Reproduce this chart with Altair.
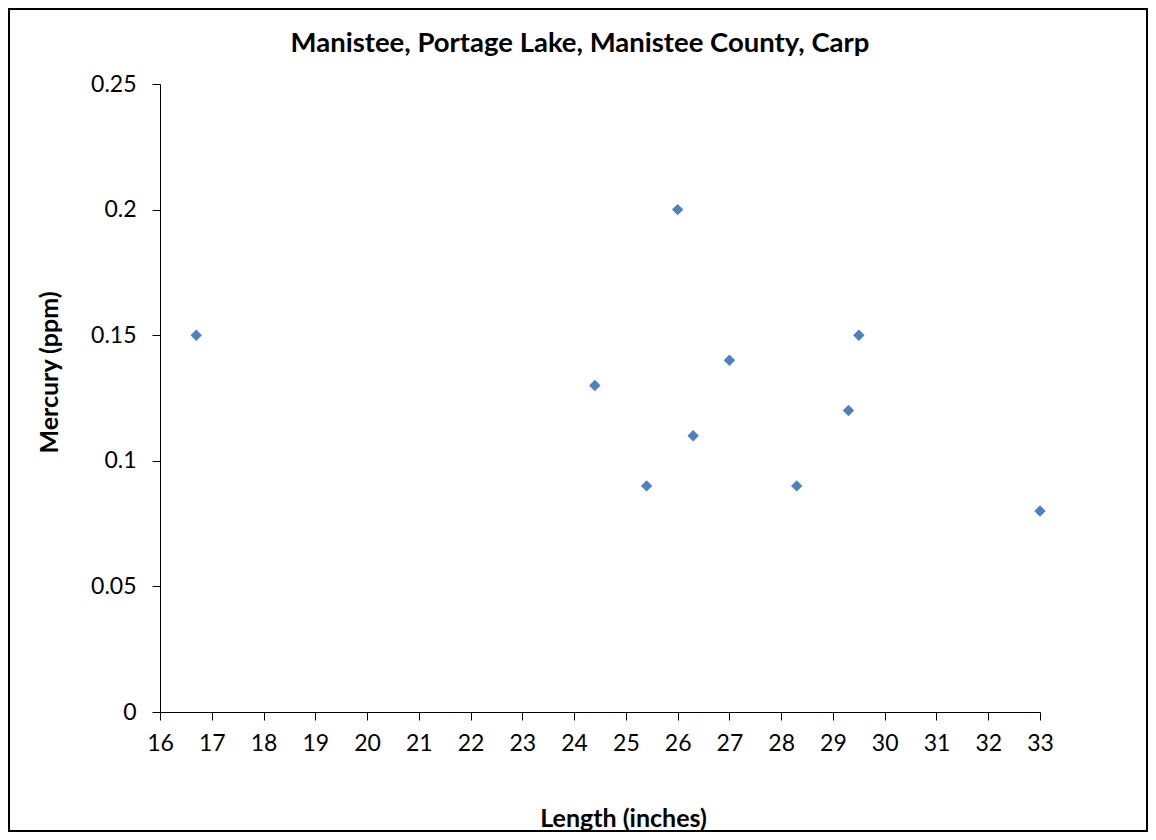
import altair as alt
import pandas as pd

# Data
length_in = [16.7, 24.4, 25.4, 26.0, 26.3, 27.0, 28.3, 29.3, 29.5, 33.0]
mercury_ppm = [0.15, 0.13, 0.09, 0.20, 0.11, 0.14, 0.09, 0.12, 0.15, 0.08]
x_ticks = list(range(16, 34))
y_ticks = [0, 0.05, 0.1, 0.15, 0.2, 0.25]

title_text = ["Manistee, Portage Lake, Manistee County, Carp"]
x_title = "Length (inches)"
y_title = "Mercury (ppm)"

df = pd.DataFrame({"Length": length_in, "Mercury": mercury_ppm})

W, H = 880, 628
PL, PT, PR, PB = 152, 76, 108, 120
FONT = "Lato"
LABEL_SIZE = 23
AXIS_TITLE_SIZE = 25
MAIN_TITLE_SIZE = 27.5

points = alt.Chart(df).mark_point(
    shape="diamond", filled=True, size=130, color="#4F81BD", opacity=1
).encode(
    x=alt.X(
        "Length:Q",
        scale=alt.Scale(domain=[16, 33], nice=False, zero=False),
        axis=alt.Axis(
            values=x_ticks, title=x_title, grid=False,
            domainColor="black", domainWidth=1, tickColor="black", tickWidth=1, tickSize=8,
            labelFont=FONT, labelFontSize=LABEL_SIZE, labelColor="black", labelPadding=12,
            labelFlush=False,
            titleFont=FONT, titleFontSize=AXIS_TITLE_SIZE, titleFontWeight="bold", titleColor="black",
            titleX=463, titleY=106, titleBaseline="middle", titleAlign="center",
        ),
    ),
    y=alt.Y(
        "Mercury:Q",
        scale=alt.Scale(domain=[0, 0.25], nice=False),
        axis=alt.Axis(
            values=y_ticks, format=".2~f", title=y_title, grid=False,
            domainColor="black", domainWidth=1, tickColor="black", tickWidth=1, tickSize=8,
            labelFont=FONT, labelFontSize=LABEL_SIZE, labelColor="black", labelPadding=16,
            labelFlush=False,
            titleFont=FONT, titleFontSize=AXIS_TITLE_SIZE, titleFontWeight="bold", titleColor="black",
            titleX=-111, titleY=288, titleBaseline="middle", titleAlign="center", titleAngle=270,
        ),
    ),
)

frame = alt.Chart(pd.DataFrame({"a": [0]})).mark_rect(
    fillOpacity=0, stroke="black", strokeWidth=2
).encode(
    x=alt.value(-PL + 1), x2=alt.value(W + PR - 1),
    y=alt.value(-PT + 1), y2=alt.value(H + PB - 1),
)

title = alt.Chart(pd.DataFrame({"t": title_text})).mark_text(
    font=FONT, fontSize=MAIN_TITLE_SIZE, fontWeight="bold", color="black",
    align="center", baseline="middle",
).encode(
    text="t:N", x=alt.value(420), y=alt.value(-40),
)

chart = alt.layer(frame, points, title).properties(
    width=W, height=H,
    padding={"left": PL, "top": PT, "right": PR, "bottom": PB},
    autosize=alt.AutoSizeParams(type="none"),
    background="white",
).configure_view(strokeWidth=0)

chart.save("out.html", embed_options={"renderer": "svg", "actions": False})
